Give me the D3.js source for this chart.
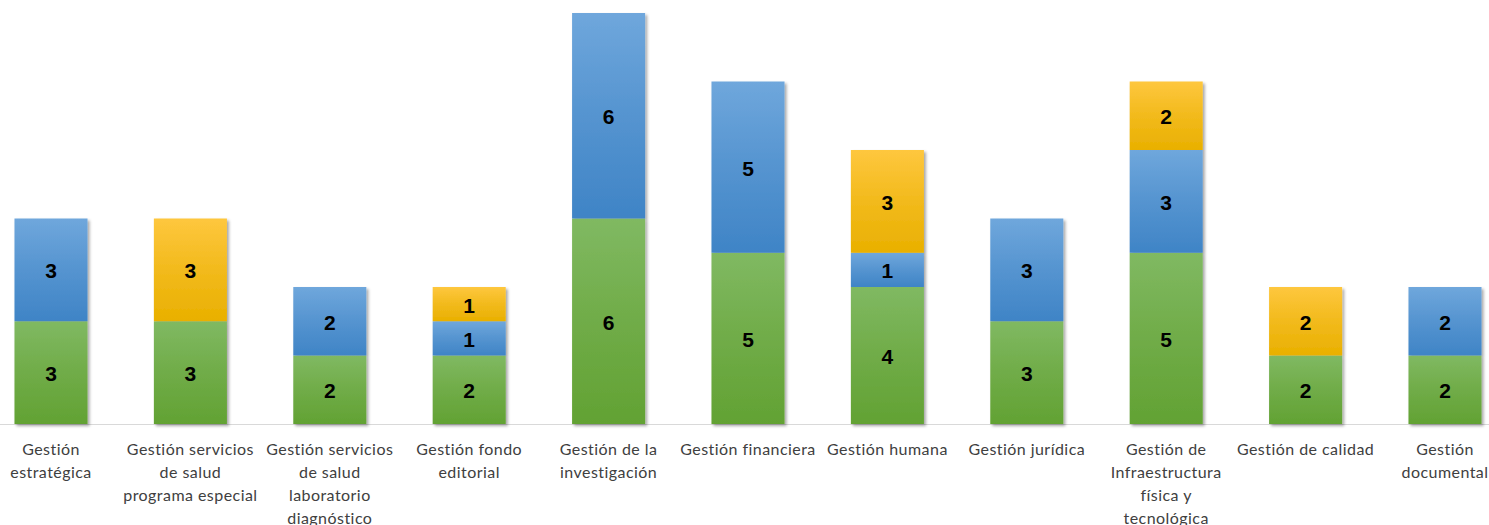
<!DOCTYPE html>
<html><head><meta charset="utf-8">
<script src="https://cdn.jsdelivr.net/npm/d3@7"></script>
<style>body{margin:0;background:#fff;overflow:hidden}</style>
</head><body>
<svg id="c" width="1489" height="525"></svg>
<script>
const categories = ["Gestión estratégica","Gestión servicios de salud programa especial","Gestión servicios de salud laboratorio diagnóstico","Gestión fondo editorial","Gestión de la investigación","Gestión financiera","Gestión humana","Gestión jurídica","Gestión de Infraestructura física y tecnológica","Gestión de calidad","Gestión documental"];
const tickLines = [["Gestión","estratégica"],["Gestión servicios","de salud","programa especial"],["Gestión servicios","de salud","laboratorio","diagnóstico"],["Gestión fondo","editorial"],["Gestión de la","investigación"],["Gestión financiera"],["Gestión humana"],["Gestión jurídica"],["Gestión de","Infraestructura","física y","tecnológica"],["Gestión de calidad"],["Gestión","documental"]];
const seriesGreen  = [3,3,2,2,6,5,4,3,5,2,2];
const seriesBlue   = [3,0,2,1,6,5,1,3,3,0,2];
const seriesYellow = [0,3,0,1,0,0,3,0,2,2,0];
const seriesKeys = ["green","blue","yellow"];

const svg = d3.select("#c");
const defs = svg.append("defs");
const grads = {green:["#80b962","#62a233"], blue:["#6fa7dc","#3f84c6"], yellow:["#fec73e","#e9b000"]};
for (const k of seriesKeys){
  const g = defs.append("linearGradient").attr("id","g-"+k).attr("x1",0).attr("y1",0).attr("x2",0).attr("y2",1);
  g.append("stop").attr("offset","0%").attr("stop-color",grads[k][0]);
  g.append("stop").attr("offset","50%").attr("stop-color",d3.interpolateRgb(grads[k][0],grads[k][1])(0.55));
  g.append("stop").attr("offset","100%").attr("stop-color",grads[k][1]);
}
const f = defs.append("filter").attr("id","sh").attr("x","-20%").attr("y","-20%").attr("width","150%").attr("height","150%");
f.append("feDropShadow").attr("dx",2).attr("dy",2).attr("stdDeviation",1.8).attr("flood-color","#000").attr("flood-opacity",0.35);

const x = d3.scaleBand().domain(categories).range([-18.7, 1514.7]).paddingInner(0.476).paddingOuter(0.238);
const y = d3.scaleLinear().domain([0,12]).range([424, 13]);

const data = categories.map((c,i)=>({cat:c, green:seriesGreen[i], blue:seriesBlue[i], yellow:seriesYellow[i]}));
const stack = d3.stack().keys(seriesKeys)(data);

svg.append("line").attr("x1",0).attr("x2",1489).attr("y1",424.5).attr("y2",424.5).attr("stroke","#d9d9d9").attr("stroke-width",1);

const barsG = svg.append("g");
categories.forEach((c,i)=>{
  const g = barsG.append("g").attr("filter","url(#sh)");
  stack.forEach(s=>{
    const d = s[i];
    if (d[1]-d[0] <= 0) return;
    g.append("rect").attr("x",x(c)).attr("width",x.bandwidth())
      .attr("y",y(d[1])).attr("height",y(d[0])-y(d[1]))
      .attr("fill","url(#g-"+s.key+")");
  });
});
stack.forEach(s=>{
  s.forEach((d,i)=>{
    const v = d[1]-d[0];
    if (v<=0) return;
    svg.append("text").attr("x",x(categories[i])+x.bandwidth()/2).attr("y",(y(d[0])+y(d[1]))/2+1)
      .attr("text-anchor","middle").attr("dominant-baseline","central")
      .attr("font-family","Liberation Sans, Arial, sans-serif").attr("font-weight","bold").attr("font-size",21)
      .attr("fill","#000").text(v);
  });
});

const xAxis = svg.append("g");
categories.forEach((c,i)=>{
  const t = xAxis.append("text").attr("x",x(c)+x.bandwidth()/2).attr("y",455)
    .attr("text-anchor","middle").attr("font-family","Lato, sans-serif").attr("font-size",16)
    .attr("letter-spacing",0.45).attr("fill","#404040");
  tickLines[i].forEach((ln,j)=>{
    t.append("tspan").attr("x",x(c)+x.bandwidth()/2).attr("dy", j===0?0:23).text(ln);
  });
});
</script>
</body></html>
